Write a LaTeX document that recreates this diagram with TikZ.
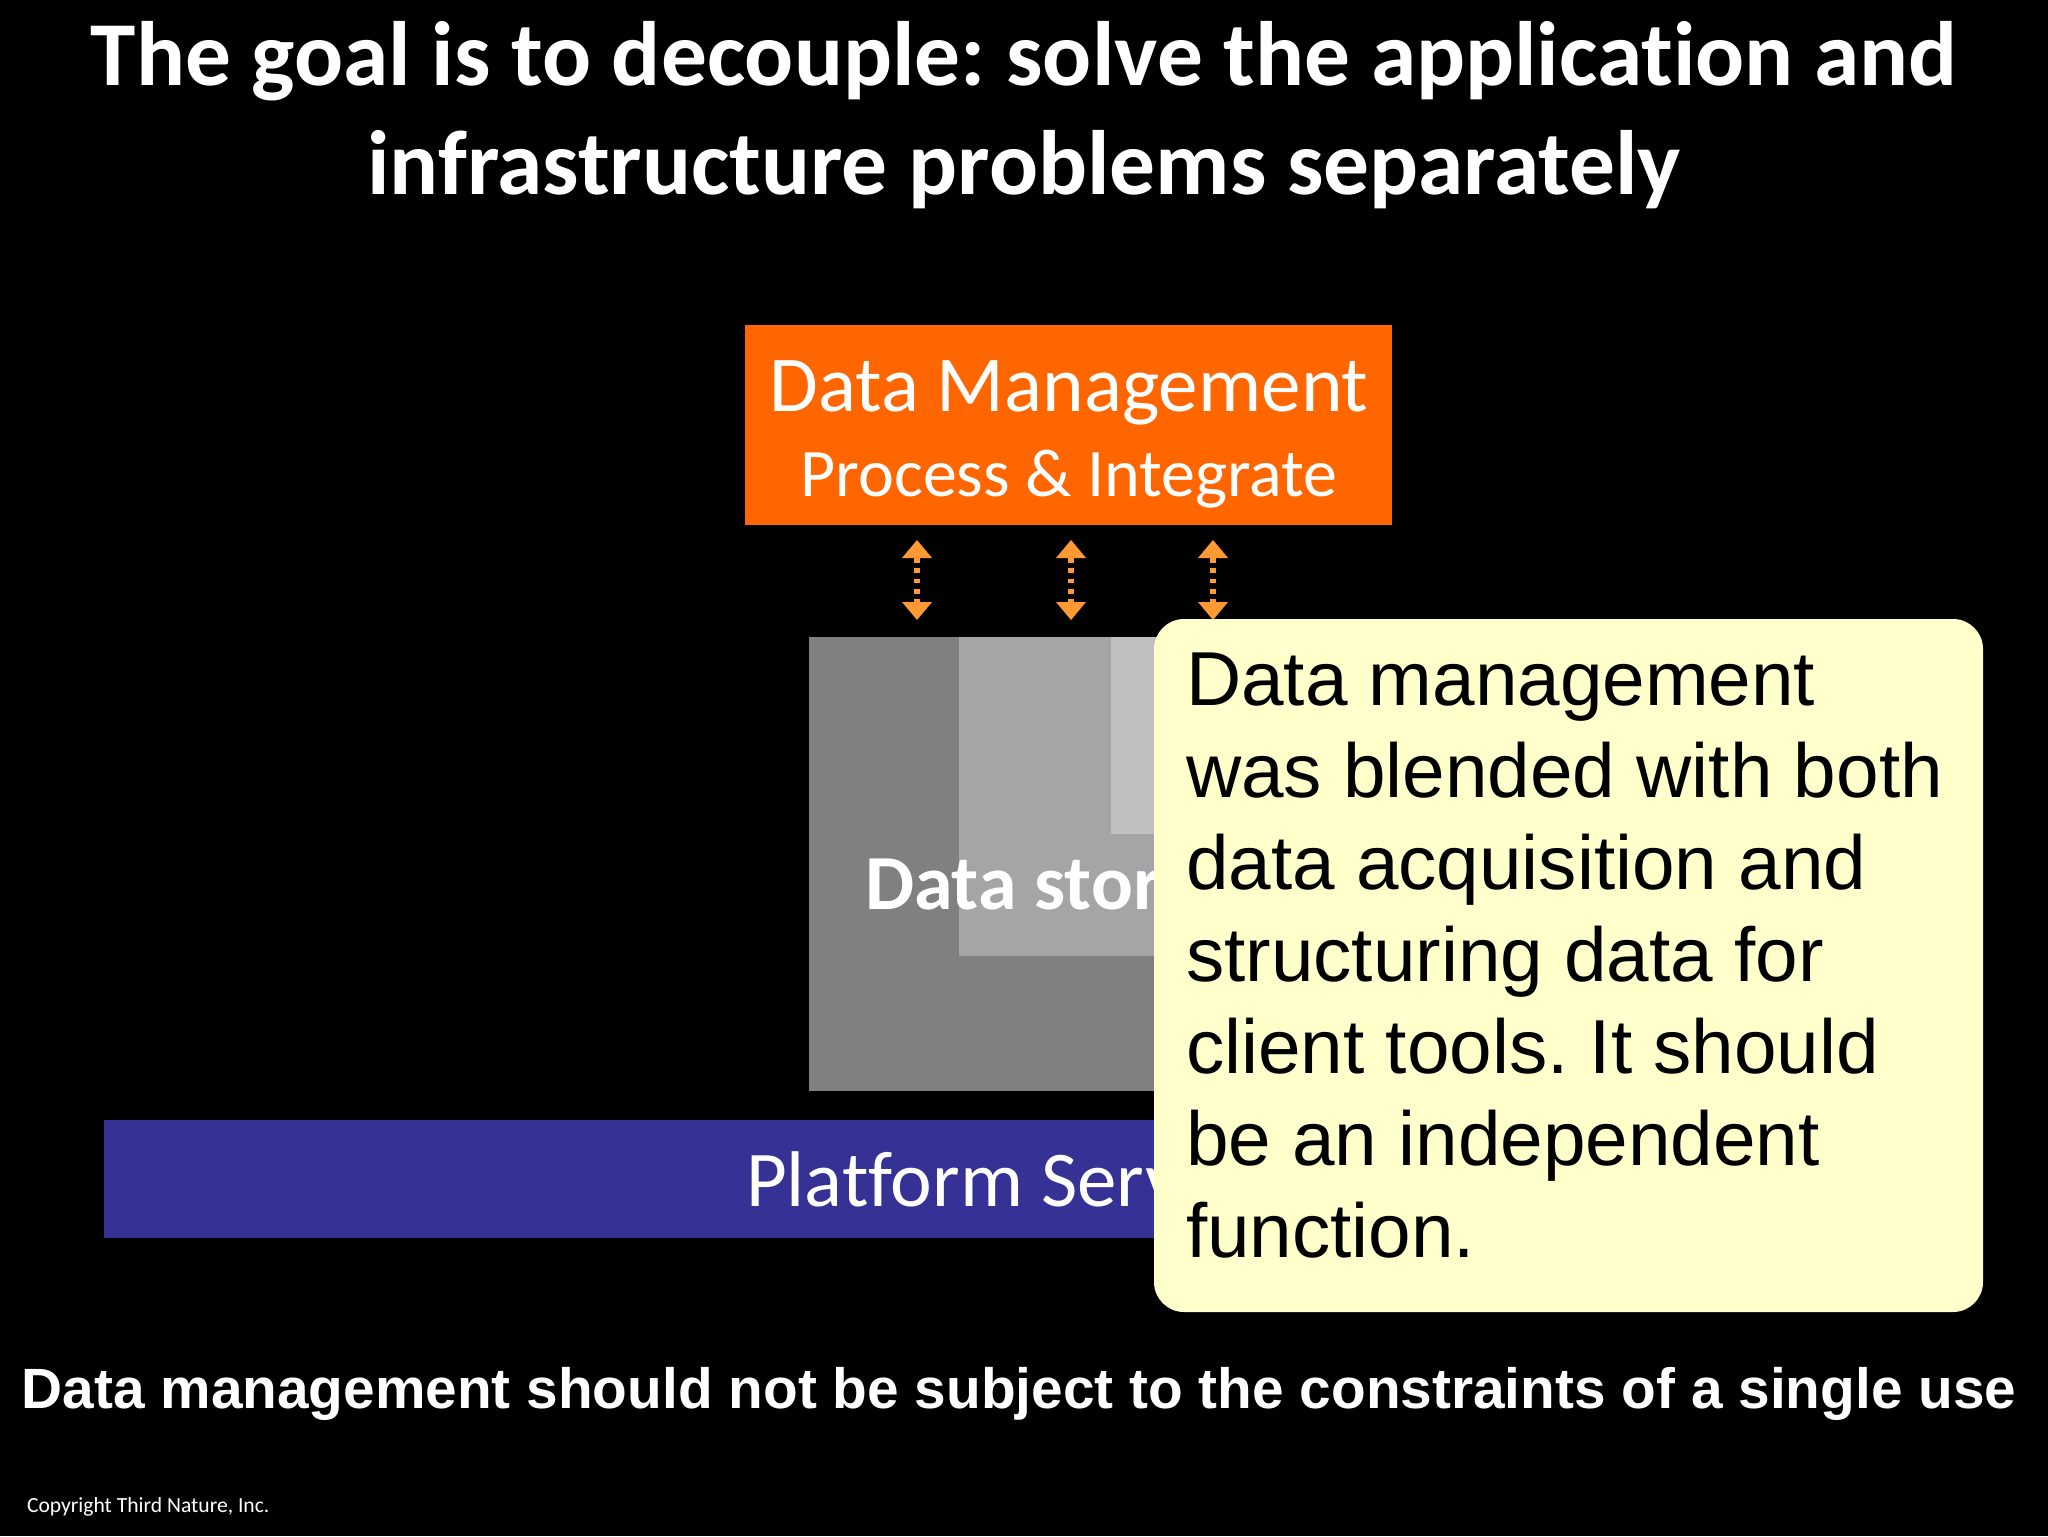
\documentclass[tikz,border=0pt]{standalone}
\usepackage{fontspec}
\setmainfont[Ligatures=NoCommon]{Carlito}
\newfontfamily\arialf{Liberation Sans}
\usetikzlibrary{arrows.meta}
\definecolor{orangebox}{HTML}{FF6600}
\definecolor{arrowor}{HTML}{FF9933}
\definecolor{grayA}{HTML}{808080}
\definecolor{grayB}{HTML}{A5A4A6}
\definecolor{grayC}{HTML}{BFBEC1}
\definecolor{bluebar}{HTML}{363195}
\definecolor{noteyel}{HTML}{FFFFCC}
\tikzset{
  x=0.5pt,y=-0.5pt,
  flatbox/.style={draw=none,inner sep=0pt,outer sep=0pt,anchor=north west},
  dbl/.style={draw=arrowor,line width=3pt,dash pattern=on 2.3pt off 2.87pt,
    {Triangle[width=15pt,length=9pt,fill=arrowor,line width=0pt,sep=0pt]}-{Triangle[width=15pt,length=9pt,fill=arrowor,line width=0pt]}},
  txt/.style={text=white,inner sep=0pt,outer sep=0pt},
}
\begin{document}
\frenchspacing
\begin{tikzpicture}
\useasboundingbox[fill=black] (0,0) rectangle (2048,1536);
\node[txt,anchor=base,font=\bfseries\fontsize{45.7}{50}\selectfont] (title1) at (1024,86) {The goal is to decouple: solve the application and};
\node[txt,anchor=base,font=\bfseries\fontsize{45.7}{50}\selectfont] (title2) at (1024,194) {infrastructure problems separately};
\node[flatbox,fill=orangebox,minimum width=323.5pt,minimum height=100pt] (dm) at (745,325) {};
\node[txt,anchor=base,font=\fontsize{39.6}{42}\selectfont] (dmt) at (1069,411) {Data Management};
\node[txt,anchor=base,font=\fontsize{34}{38}\selectfont] (dmp) at (1069,496) {Process \& Integrate};
\node[flatbox,fill=grayA,minimum width=300pt,minimum height=227pt] (g1) at (809,637) {};
\node[flatbox,fill=grayB,minimum width=200pt,minimum height=159.5pt] (g2) at (959,637) {};
\node[flatbox,fill=grayC,minimum width=120pt,minimum height=98.5pt] (g3) at (1111,637) {};
\node[txt,anchor=base west,font=\bfseries\fontsize{39}{43}\selectfont] (ds) at (865,909) {Data storage};
\node[flatbox,fill=bluebar,minimum width=900pt,minimum height=59pt] (pf) at (104,1120) {};
\node[txt,anchor=base west,font=\fontsize{39.5}{43}\selectfont] (pft) at (746,1206) {Platform Services};
\coordinate (a1t) at (917,540); \coordinate (a1b) at (917,620);
\coordinate (a2t) at (1071,540); \coordinate (a2b) at (1071,620);
\coordinate (a3t) at (1213,540); \coordinate (a3b) at (1213,620);
\draw[dbl] (a1t) -- (a1b);
\draw[dbl] (a2t) -- (a2b);
\draw[dbl] (a3t) -- (a3b);
\node[flatbox,fill=noteyel,rounded corners=15pt,minimum width=414.5pt,minimum height=346.5pt] (note) at (1154,619) {};
\node[inner sep=0pt,outer sep=0pt,anchor=north west,align=left,text=black,
  font=\arialf\fontsize{38.25}{46}\selectfont] (notetext) at (1186,653)
  {Data management\\was blended with both\\data acquisition and\\structuring data for\\client tools. It should\\be an independent\\function.};
\node[txt,anchor=base,font=\arialf\bfseries\fontsize{28.4}{31}\selectfont] (sub) at (1019,1408) {Data management should not be subject to the constraints of a single use};
\node[txt,anchor=base west,font=\fontsize{10.8}{12}\selectfont] (cp) at (27,1512) {Copyright Third Nature, Inc.};
\end{tikzpicture}
\end{document}
